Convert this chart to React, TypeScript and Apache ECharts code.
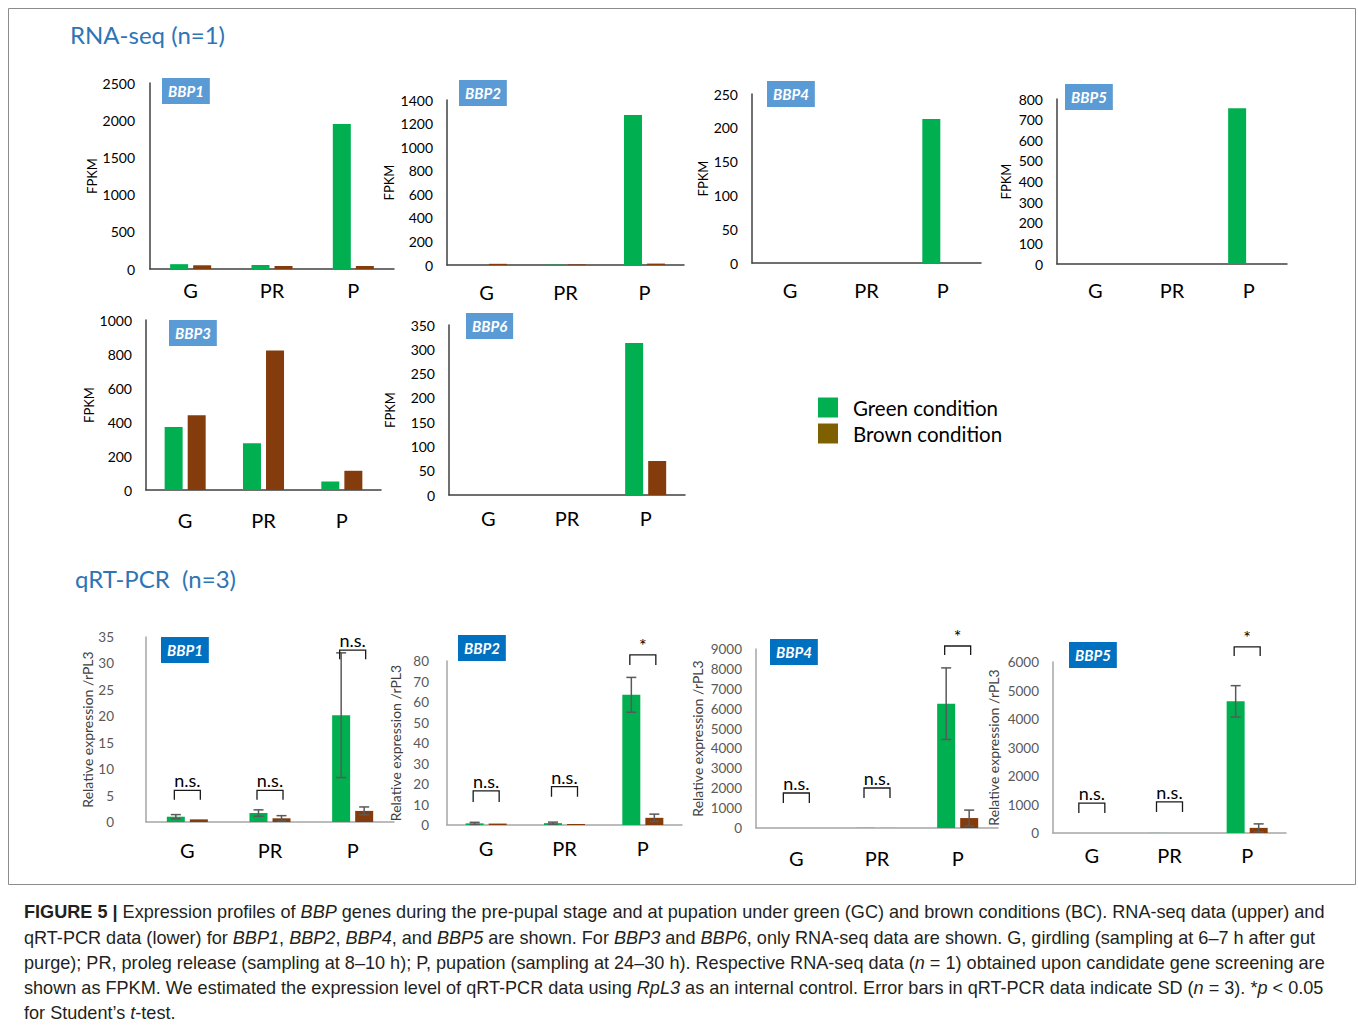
import React, { useEffect, useRef } from "react";
import * as echarts from "echarts";

const FONT = "Lato, 'Open Sans', sans-serif";
const CAPTION_FONT = "'Liberation Sans', Arial, sans-serif";
const GREEN = "#00B050";
const BROWN = "#843C0C";
const LEGEND_BROWN = "#7F6000";

const categories = ["G", "PR", "P"];

// ---- RNA-seq (FPKM), n = 1 ----
const rnaBBP1Green = [65, 55, 1950];
const rnaBBP1Brown = [50, 40, 40];
const rnaBBP2Green = [0, 3, 1272];
const rnaBBP2Brown = [10, 5, 12];
const rnaBBP4Green = [0, 0, 213];
const rnaBBP4Brown = [0, 0, 0];
const rnaBBP5Green = [0, 0, 755];
const rnaBBP5Brown = [0, 0, 0];
const rnaBBP3Green = [370, 275, 50];
const rnaBBP3Brown = [440, 820, 113];
const rnaBBP6Green = [0, 0, 313];
const rnaBBP6Brown = [0, 0, 70];

// ---- qRT-PCR (relative expression / rPL3), n = 3 ----
const qBBP1Green = [1.0, 1.7, 20.2];
const qBBP1GreenSD = [0.4, 0.6, 11.8];
const qBBP1Brown = [0.5, 0.7, 2.1];
const qBBP1BrownSD = [0.15, 0.5, 0.75];
const qBBP2Green = [0.8, 0.9, 63.5];
const qBBP2GreenSD = [0.5, 0.5, 8.5];
const qBBP2Brown = [0.7, 0.5, 3.5];
const qBBP2BrownSD = [0.4, 0.3, 1.8];
const qBBP4Green = [1, 10, 6250];
const qBBP4GreenSD = [1, 5, 1800];
const qBBP4Brown = [1, 3, 500];
const qBBP4BrownSD = [1, 2, 400];
const qBBP5Green = [1, 2, 4620];
const qBBP5GreenSD = [1, 1, 550];
const qBBP5Brown = [1, 1, 180];
const qBBP5BrownSD = [1, 1, 140];

// significance brackets: [category index, bracket top, leg bottom]
const qBBP1Brackets = [[0, 6.0, 4.2], [1, 6.0, 4.2], [2, 32.5, 30.8]];
const qBBP1BracketLabels = ["n.s.", "n.s.", "n.s."];
const qBBP2Brackets = [[0, 16.6, 11.2], [1, 18.7, 13.8], [2, 83, 78]];
const qBBP2BracketLabels = ["n.s.", "n.s.", "*"];
const qBBP4Brackets = [[0, 1760, 1257], [1, 2010, 1508], [2, 9150, 8700]];
const qBBP4BracketLabels = ["n.s.", "n.s.", "*"];
const qBBP5Brackets = [[0, 1050, 700], [1, 1090, 740], [2, 6530, 6210]];
const qBBP5BracketLabels = ["n.s.", "n.s.", "*"];

// y-axis scales
const yMax = [2500, 1400, 250, 800, 1000, 350, 35, 80, 9000, 6000];
const yInterval = [500, 200, 50, 100, 200, 50, 5, 10, 1000, 1000];

type Panel = {
  kind: "rna" | "qrt";
  gene: string;
  green: number[];
  brown: number[];
  greenSD?: number[];
  brownSD?: number[];
  brackets?: number[][];
  bracketLabels?: string[];
  grid: { left: number; top: number; width: number; height: number };
  yLabelMargin: number;
  xLabelMargin: number;
  nameGap: number;
  tag: { left: number; top: number };
};

const panels: Panel[] = [
  { kind: "rna", gene: "BBP1", green: rnaBBP1Green, brown: rnaBBP1Brown,
    grid: { left: 150, top: 83, width: 244, height: 186 }, yLabelMargin: 15, xLabelMargin: 11, nameGap: 52, tag: { left: 162, top: 78 } },
  { kind: "rna", gene: "BBP2", green: rnaBBP2Green, brown: rnaBBP2Brown,
    grid: { left: 447, top: 100, width: 237, height: 165 }, yLabelMargin: 14, xLabelMargin: 17, nameGap: 52, tag: { left: 459, top: 80 } },
  { kind: "rna", gene: "BBP4", green: rnaBBP4Green, brown: rnaBBP4Brown,
    grid: { left: 752, top: 94, width: 229, height: 169 }, yLabelMargin: 14, xLabelMargin: 17, nameGap: 43, tag: { left: 767, top: 81 } },
  { kind: "rna", gene: "BBP5", green: rnaBBP5Green, brown: rnaBBP5Brown,
    grid: { left: 1057, top: 99, width: 230, height: 165 }, yLabelMargin: 14, xLabelMargin: 16, nameGap: 45, tag: { left: 1065, top: 84 } },
  { kind: "rna", gene: "BBP3", green: rnaBBP3Green, brown: rnaBBP3Brown,
    grid: { left: 146, top: 320, width: 235, height: 170 }, yLabelMargin: 14, xLabelMargin: 20, nameGap: 47, tag: { left: 169, top: 320 } },
  { kind: "rna", gene: "BBP6", green: rnaBBP6Green, brown: rnaBBP6Brown,
    grid: { left: 449, top: 325, width: 236, height: 170 }, yLabelMargin: 14, xLabelMargin: 13, nameGap: 53, tag: { left: 466, top: 313 } },
  { kind: "qrt", gene: "BBP1", green: qBBP1Green, brown: qBBP1Brown, greenSD: qBBP1GreenSD, brownSD: qBBP1BrownSD,
    brackets: qBBP1Brackets, bracketLabels: qBBP1BracketLabels,
    grid: { left: 146, top: 637, width: 248, height: 185 }, yLabelMargin: 32, xLabelMargin: 18, nameGap: 36, tag: { left: 161, top: 637 } },
  { kind: "qrt", gene: "BBP2", green: qBBP2Green, brown: qBBP2Brown, greenSD: qBBP2GreenSD, brownSD: qBBP2BrownSD,
    brackets: qBBP2Brackets, bracketLabels: qBBP2BracketLabels,
    grid: { left: 447, top: 661, width: 235, height: 164 }, yLabelMargin: 18, xLabelMargin: 13, nameGap: 45, tag: { left: 458, top: 635 } },
  { kind: "qrt", gene: "BBP4", green: qBBP4Green, brown: qBBP4Brown, greenSD: qBBP4GreenSD, brownSD: qBBP4BrownSD,
    brackets: qBBP4Brackets, bracketLabels: qBBP4BracketLabels,
    grid: { left: 756, top: 649, width: 242, height: 179 }, yLabelMargin: 14, xLabelMargin: 20, nameGap: 52, tag: { left: 770, top: 639 } },
  { kind: "qrt", gene: "BBP5", green: qBBP5Green, brown: qBBP5Brown, greenSD: qBBP5GreenSD, brownSD: qBBP5BrownSD,
    brackets: qBBP5Brackets, bracketLabels: qBBP5BracketLabels,
    grid: { left: 1053, top: 662, width: 233, height: 171 }, yLabelMargin: 14, xLabelMargin: 12, nameGap: 53, tag: { left: 1069, top: 642 } },
];

const BAR_W = 18;
const BAR_GAP = 5;
const HALF_SEP = (BAR_W + BAR_GAP) / 2;

function errorSeries(gi: number, means: number[], sds: number[], side: number) {
  return {
    type: "custom",
    xAxisIndex: gi,
    yAxisIndex: gi,
    silent: true,
    z: 5,
    data: means.map((m, i) => [i, Math.max(0, m - sds[i]), m + sds[i]]),
    encode: { x: 0, y: [1, 2] },
    renderItem: (params: any, api: any) => {
      const lo = api.coord([api.value(0), api.value(1)]);
      const hi = api.coord([api.value(0), api.value(2)]);
      if (Math.abs(lo[1] - hi[1]) < 2) return { type: "group", children: [] };
      const x = lo[0] + side * HALF_SEP;
      const cap = 5;
      const st = { stroke: "#595959", lineWidth: 1.5 };
      return {
        type: "group",
        children: [
          { type: "line", shape: { x1: x, y1: lo[1], x2: x, y2: hi[1] }, style: st },
          { type: "line", shape: { x1: x - cap, y1: hi[1], x2: x + cap, y2: hi[1] }, style: st },
          { type: "line", shape: { x1: x - cap, y1: lo[1], x2: x + cap, y2: lo[1] }, style: st },
        ],
      };
    },
  };
}

function bracketSeries(gi: number, rows: number[][], labels: string[]) {
  return {
    type: "custom",
    xAxisIndex: gi,
    yAxisIndex: gi,
    silent: true,
    z: 6,
    clip: false,
    data: rows,
    encode: { x: 0, y: [1, 2] },
    renderItem: (params: any, api: any) => {
      const t = api.coord([api.value(0), api.value(1)]);
      const b = api.coord([api.value(0), api.value(2)]);
      const x1 = t[0] - 13;
      const x2 = t[0] + 13;
      return {
        type: "group",
        children: [
          {
            type: "polyline",
            shape: { points: [[x1, b[1]], [x1, t[1]], [x2, t[1]], [x2, b[1]]] },
            style: { stroke: "#1a1a1a", lineWidth: 1.3, fill: null },
          },
          {
            type: "text",
            style: {
              text: labels[params.dataIndex],
              x: t[0],
              y: t[1] - 1,
              align: "center",
              verticalAlign: "bottom",
              fontSize: 18,
              fontFamily: FONT,
              fill: "#000",
            },
          },
        ],
      };
    },
  };
}

const captionLines = [
  "{b|FIGURE 5 |} Expression profiles of {i|BBP} genes during the pre-pupal stage and at pupation under green (GC) and brown conditions (BC). RNA-seq data (upper) and",
  "qRT-PCR data (lower) for {i|BBP1}, {i|BBP2}, {i|BBP4}, and {i|BBP5} are shown. For {i|BBP3} and {i|BBP6}, only RNA-seq data are shown. G, girdling (sampling at 6–7 h after gut",
  "purge); PR, proleg release (sampling at 8–10 h); P, pupation (sampling at 24–30 h). Respective RNA-seq data ({i|n} = 1) obtained upon candidate gene screening are",
  "shown as FPKM. We estimated the expression level of qRT-PCR data using {i|RpL3} as an internal control. Error bars in qRT-PCR data indicate SD ({i|n} = 3). *{i|p} < 0.05",
  "for Student’s {i|t}-test.",
];

const CAPTION_SIZE = 18.1;

function buildOption() {
  const grids: any[] = [];
  const xAxes: any[] = [];
  const yAxes: any[] = [];
  const series: any[] = [];
  const titles: any[] = [
    {
      text: "RNA-seq (n=1)",
      left: 70,
      top: 22,
      padding: 0,
      textStyle: { fontFamily: FONT, fontSize: 24, fontWeight: "normal", color: "#2E75B6" },
    },
    {
      text: "qRT-PCR  (n=3)",
      left: 75,
      top: 566,
      padding: 0,
      textStyle: { fontFamily: FONT, fontSize: 24, fontWeight: "normal", color: "#2E75B6" },
    },
  ];

  panels.forEach((p, i) => {
    const isQ = p.kind === "qrt";
    const axisColor = isQ ? "#A6A6A6" : "#404040";
    grids.push({ ...p.grid });
    xAxes.push({
      type: "category",
      gridIndex: i,
      data: categories,
      axisTick: { show: false },
      axisLine: { lineStyle: { color: axisColor, width: 1.5 } },
      axisLabel: { fontSize: 20, color: "#000", fontFamily: FONT, margin: p.xLabelMargin },
    });
    yAxes.push({
      type: "value",
      gridIndex: i,
      min: 0,
      max: yMax[i],
      interval: yInterval[i],
      splitLine: { show: false },
      axisTick: { show: false },
      axisLine: { show: true, lineStyle: { color: axisColor, width: 1.5 } },
      axisLabel: {
        fontSize: isQ ? 13.5 : 14,
        color: isQ ? "#595959" : "#000",
        fontFamily: FONT,
        margin: p.yLabelMargin,
        formatter: (v: number) => String(v),
      },
      name: isQ ? "Relative expression /rPL3" : "FPKM",
      nameLocation: "middle",
      nameGap: p.nameGap,
      nameTextStyle: { fontSize: isQ ? 14 : 13, color: isQ ? "#404040" : "#000", fontFamily: FONT },
    });
    series.push({
      type: "bar",
      name: "Green condition",
      xAxisIndex: i,
      yAxisIndex: i,
      data: p.green,
      barWidth: BAR_W,
      barGap: "28%",
      itemStyle: { color: GREEN },
    });
    series.push({
      type: "bar",
      name: "Brown condition",
      xAxisIndex: i,
      yAxisIndex: i,
      data: p.brown,
      barWidth: BAR_W,
      barGap: "28%",
      itemStyle: { color: BROWN },
    });
    if (p.greenSD && p.brownSD) {
      series.push(errorSeries(i, p.green, p.greenSD, -1));
      series.push(errorSeries(i, p.brown, p.brownSD, 1));
    }
    if (p.brackets && p.bracketLabels) {
      series.push(bracketSeries(i, p.brackets, p.bracketLabels));
    }
    titles.push({
      text: p.gene,
      left: p.tag.left,
      top: p.tag.top,
      padding: [5, 6, 5, 6],
      backgroundColor: isQ ? "#0070C0" : "#5B9BD5",
      textStyle: {
        fontFamily: FONT,
        fontSize: 15,
        lineHeight: 16,
        fontStyle: "italic",
        fontWeight: "bold",
        color: "#fff",
      },
    });
  });

  const captionRich = {
    b: { fontWeight: "bold", fontSize: CAPTION_SIZE, fontFamily: CAPTION_FONT, fill: "#231F20" },
    i: { fontStyle: "italic", fontSize: CAPTION_SIZE, fontFamily: CAPTION_FONT, fill: "#231F20" },
  };
  const captionY = [912, 938, 963, 988, 1013];
  const graphics: any[] = [
    {
      type: "rect",
      shape: { x: 8.5, y: 8.5, width: 1347, height: 876 },
      style: { fill: null, stroke: "#8c8c8c", lineWidth: 1 },
      silent: true,
    },
    ...captionLines.map((t, k) => ({
      type: "text",
      left: 24,
      top: captionY[k] - 9,
      silent: true,
      style: {
        text: t,
        fontFamily: CAPTION_FONT,
        fontSize: CAPTION_SIZE,
        fill: "#231F20",
        rich: captionRich,
      },
    })),
  ];

  return {
    animation: false,
    backgroundColor: "#fff",
    title: titles,
    legend: {
      orient: "vertical",
      left: 818,
      top: 397,
      padding: 0,
      itemWidth: 20,
      itemHeight: 20,
      itemGap: 5,
      icon: "rect",
      selectedMode: false,
      textStyle: { fontFamily: FONT, fontSize: 20.5, color: "#000", padding: [0, 0, 5, 10] },
      data: [
        { name: "Green condition", itemStyle: { color: GREEN } },
        { name: "Brown condition", itemStyle: { color: LEGEND_BROWN } },
      ],
    },
    grid: grids,
    xAxis: xAxes,
    yAxis: yAxes,
    series,
    graphic: graphics,
  };
}

export default function App() {
  const ref = useRef<HTMLDivElement>(null);
  useEffect(() => {
    if (!ref.current) return;
    const chart = echarts.init(ref.current, undefined, { renderer: "svg" });
    chart.setOption(buildOption() as any);
    return () => chart.dispose();
  }, []);
  return (
    <div
      ref={ref}
      style={{ position: "absolute", left: 0, top: 0, width: 1358, height: 1026, background: "#fff" }}
    />
  );
}
